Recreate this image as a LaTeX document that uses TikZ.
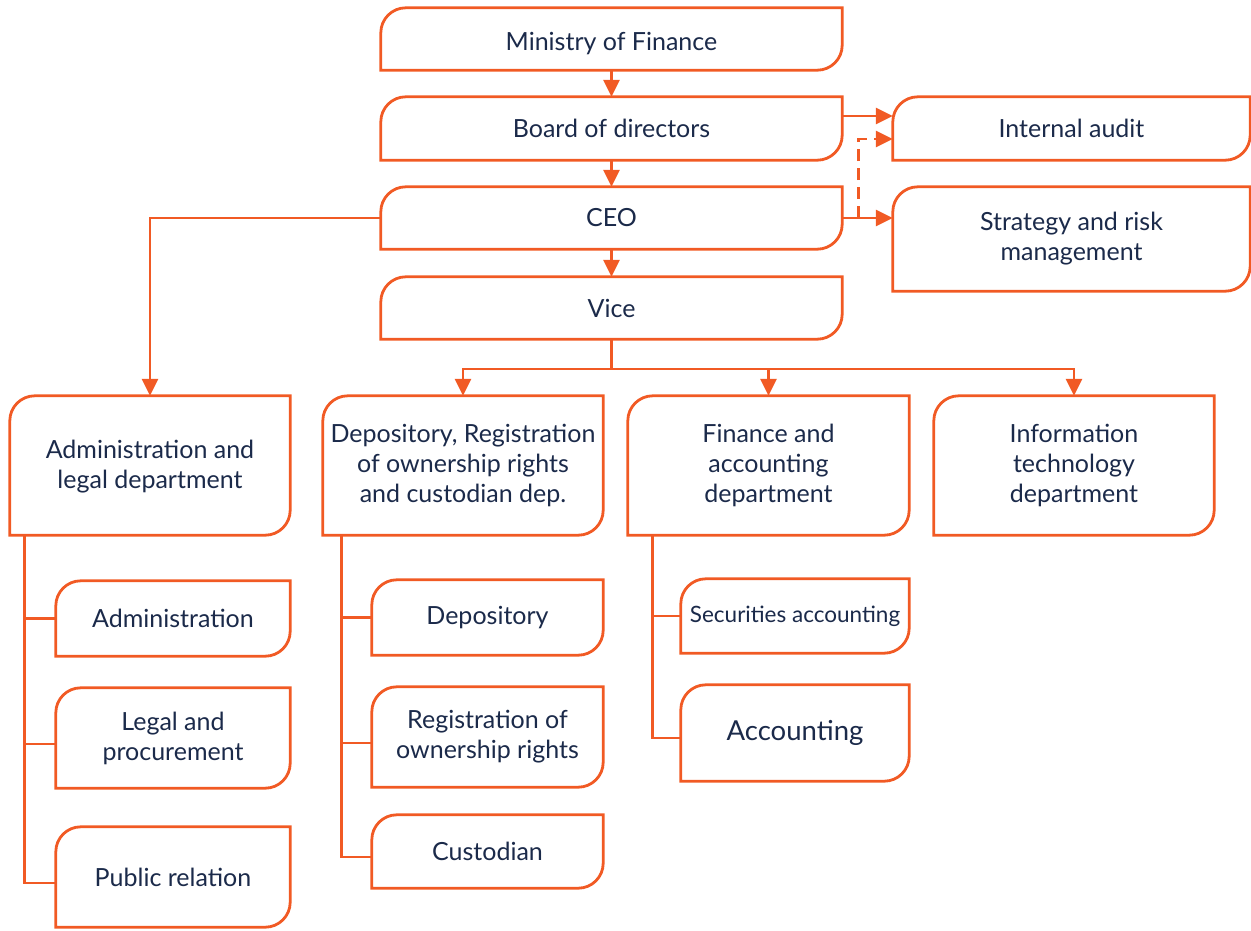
\documentclass[tikz,border=0pt]{standalone}
\usepackage{fontspec}
\setmainfont{Lato}
\usetikzlibrary{arrows.meta}
\definecolor{org}{HTML}{F15A24}
\definecolor{txt}{HTML}{1B2A4A}
\tikzset{
  box/.style={draw=none,inner sep=0pt,align=center,text=txt,font=\fontsize{25}{30}\selectfont},
  leafline/.style={draw=org,line width=2.8pt,fill=white},
  conn/.style={draw=org,line width=2.8pt},
  arr/.style={conn,-{Triangle[length=17pt,width=16pt]}},
}
\newcommand\leaf[1]{\draw[leafline] ([yshift=-25pt]#1.north west) arc[start angle=180,end angle=90,radius=25pt] -- (#1.north east) -- ([yshift=25pt]#1.south east) arc[start angle=0,end angle=-90,radius=25pt] -- (#1.south west) -- cycle;}
\begin{document}
\begin{tikzpicture}[x=1pt,y=1pt]
\useasboundingbox (0,0) rectangle (1251,-930);
% nodes
\node[box,minimum width=461pt,minimum height=62pt] (mof) at (611.5,-39) {};
\node[box,minimum width=461pt,minimum height=63pt] (board) at (611.5,-128.5) {};
\node[box,minimum width=461pt,minimum height=62pt] (ceo) at (611.5,-218) {};
\node[box,minimum width=461pt,minimum height=62pt] (vice) at (611.5,-308) {};
\node[box,minimum width=357pt,minimum height=63pt] (audit) at (1071.5,-128.5) {};
\node[box,minimum width=357pt,minimum height=104pt] (strat) at (1071.5,-239) {};
\node[box,minimum width=280pt,minimum height=139pt] (adm) at (150,-465.5) {};
\node[box,minimum width=280pt,minimum height=139pt] (dep) at (463,-465.5) {};
\node[box,minimum width=281pt,minimum height=139pt] (fin) at (768.5,-465.5) {};
\node[box,minimum width=280pt,minimum height=139pt] (it) at (1074,-465.5) {};
\node[box,minimum width=234pt,minimum height=75pt] (a1) at (173,-618.5) {};
\node[box,minimum width=234pt,minimum height=100pt] (a2) at (173,-738) {};
\node[box,minimum width=234pt,minimum height=100pt] (a3) at (173,-877) {};
\node[box,minimum width=231pt,minimum height=75pt] (d1) at (487.5,-617.5) {};
\node[box,minimum width=231pt,minimum height=100pt] (d2) at (487.5,-737) {};
\node[box,minimum width=231pt,minimum height=73pt] (d3) at (487.5,-851.5) {};
\node[box,minimum width=228pt,minimum height=74pt] (f1) at (795,-616) {};
\node[box,minimum width=228pt,minimum height=96pt] (f2) at (795,-733) {};
% connectors
\coordinate (vj) at (611.5,-369);
\draw[arr] (mof.south) -- (board.north);
\draw[arr] (board.south) -- (ceo.north);
\draw[arr] (ceo.south) -- (vice.north);
\draw[arr] ([yshift=12.5pt]board.east) -- ([yshift=12.5pt]audit.west);
\draw[arr] (ceo.east) -- (ceo.east -| strat.west);
\draw[arr,dashed,dash pattern=on 12pt off 7pt] ([xshift=16pt]ceo.east) |- ([yshift=-10.5pt]audit.west);
\draw[arr] (ceo.west) -| (adm.north);
\draw[conn] (vice.south) -- (vj);
\draw[arr] (vj) -| (dep.north);
\draw[arr] (vj) -| (fin.north);
\draw[arr] (vj) -| (it.north);
\coordinate (av) at ([xshift=15pt]adm.south west);
\coordinate (dv) at ([xshift=19pt]dep.south west);
\coordinate (fv) at ([xshift=25pt]fin.south west);
\draw[conn] (av) |- ([yshift=-6pt]a3.west);
\draw[conn] (a1.west) -- (av |- a1.west);
\draw[conn] ([yshift=-6pt]a2.west) -- ++(-31,0);
\draw[conn] (dv) |- ([yshift=-5.5pt]d3.west);
\draw[conn] (d1.west) -- (dv |- d1.west);
\draw[conn] ([yshift=-6pt]d2.west) -- ++(-30,0);
\draw[conn] (fv) |- ([yshift=-5pt]f2.west);
\draw[conn] (f1.west) -- (fv |- f1.west);
% boxes
\foreach \n in {mof,board,ceo,vice,audit,strat,adm,dep,fin,it,a1,a2,a3,d1,d2,d3,f1,f2} {\leaf{\n}}
% texts
\node[box] at ([yshift=-5pt]mof.center) {Ministry of Finance};
\node[box] at (board) {Board of directors};
\node[box] at (ceo) {CEO};
\node[box] at (vice) {Vice};
\node[box] at (audit) {Internal audit};
\node[box] at (strat) {Strategy and risk\\management};
\node[box] at ([yshift=-1pt]adm.center) {Administration and\\legal department};
\node[box] at (dep) {Depository, Registration\\of ownership rights\\and custodian dep.};
\node[box] at (fin) {Finance and\\accounting\\department};
\node[box] at (it) {Information\\technology\\department};
\node[box] at (a1) {Administration};
\node[box] at (a2) {Legal and\\procurement};
\node[box] at (a3) {Public relation};
\node[box] at (d1) {Depository};
\node[box] at (d2) {Registration of\\ownership rights};
\node[box] at (d3) {Custodian};
\node[box,font=\fontsize{22.5}{28}\selectfont] at (f1) {Securities accounting};
\node[box,font=\fontsize{27.5}{34}\selectfont] at (f2) {Accounting};
\end{tikzpicture}
\end{document}
